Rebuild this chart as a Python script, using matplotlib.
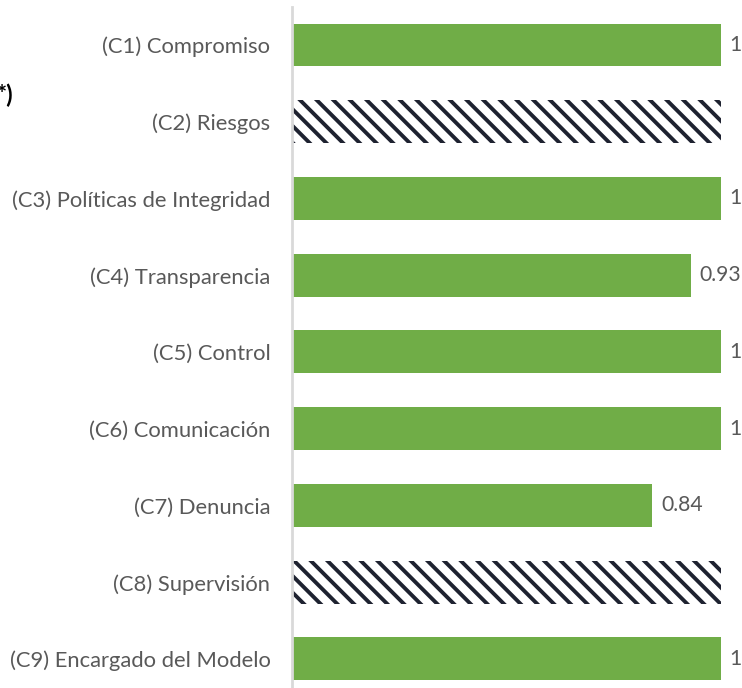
import numpy as np
import matplotlib.pyplot as plt

categorias = ['(C1) Compromiso', '(C2) Riesgos', '(C3) Políticas de Integridad',
              '(C4) Transparencia', '(C5) Control', '(C6) Comunicación',
              '(C7) Denuncia', '(C8) Supervisión', '(C9) Encargado del Modelo']
valores = [1, 1, 1, 0.93, 1, 1, 0.84, 1, 1]
etiquetas = ['1', '', '1', '0.93', '1', '1', '0.84', '', '1']
rayado = [False, True, False, False, False, False, False, True, False]

plt.rcParams['font.family'] = ['Lato', 'DejaVu Sans']
plt.rcParams['hatch.linewidth'] = 2.8
plt.rcParams['hatch.color'] = '#1e2230'

W, H = 742, 688
fig = plt.figure(figsize=(W/100, H/100), dpi=100)
ax = fig.add_axes([292/W, 0, (721-292)/W, (688-7)/H])

verde = '#70ad47'
gris = '#595959'
y = np.arange(len(categorias))
for i in range(len(categorias)):
	if rayado[i]:
		ax.barh(y[i], valores[i], height=0.56, color='white', hatch='\\\\', linewidth=0)
	else:
		ax.barh(y[i], valores[i], height=0.56, color=verde, linewidth=0)
	if etiquetas[i]:
		ax.text(valores[i]+0.02, y[i], etiquetas[i], va='center', ha='left',
			fontsize=15.2, color=gris)

ax.set_xlim(0, 1)
ax.set_ylim(8.378, -0.495)
ax.set_yticks(y)
ax.set_yticklabels(categorias, fontsize=15.8, color=gris)
ax.tick_params(axis='y', length=0, pad=15.5)
ax.set_xticks([])
for s in ['top', 'right', 'bottom']:
	ax.spines[s].set_visible(False)
ax.spines['left'].set_color('#d9d9d9')
ax.spines['left'].set_linewidth(2)

fig.text(13/W, 1-95/H, '*)', ha='right', va='center', fontsize=17,
	fontweight='bold', color='black')

fig.savefig('out.png', dpi=100)
